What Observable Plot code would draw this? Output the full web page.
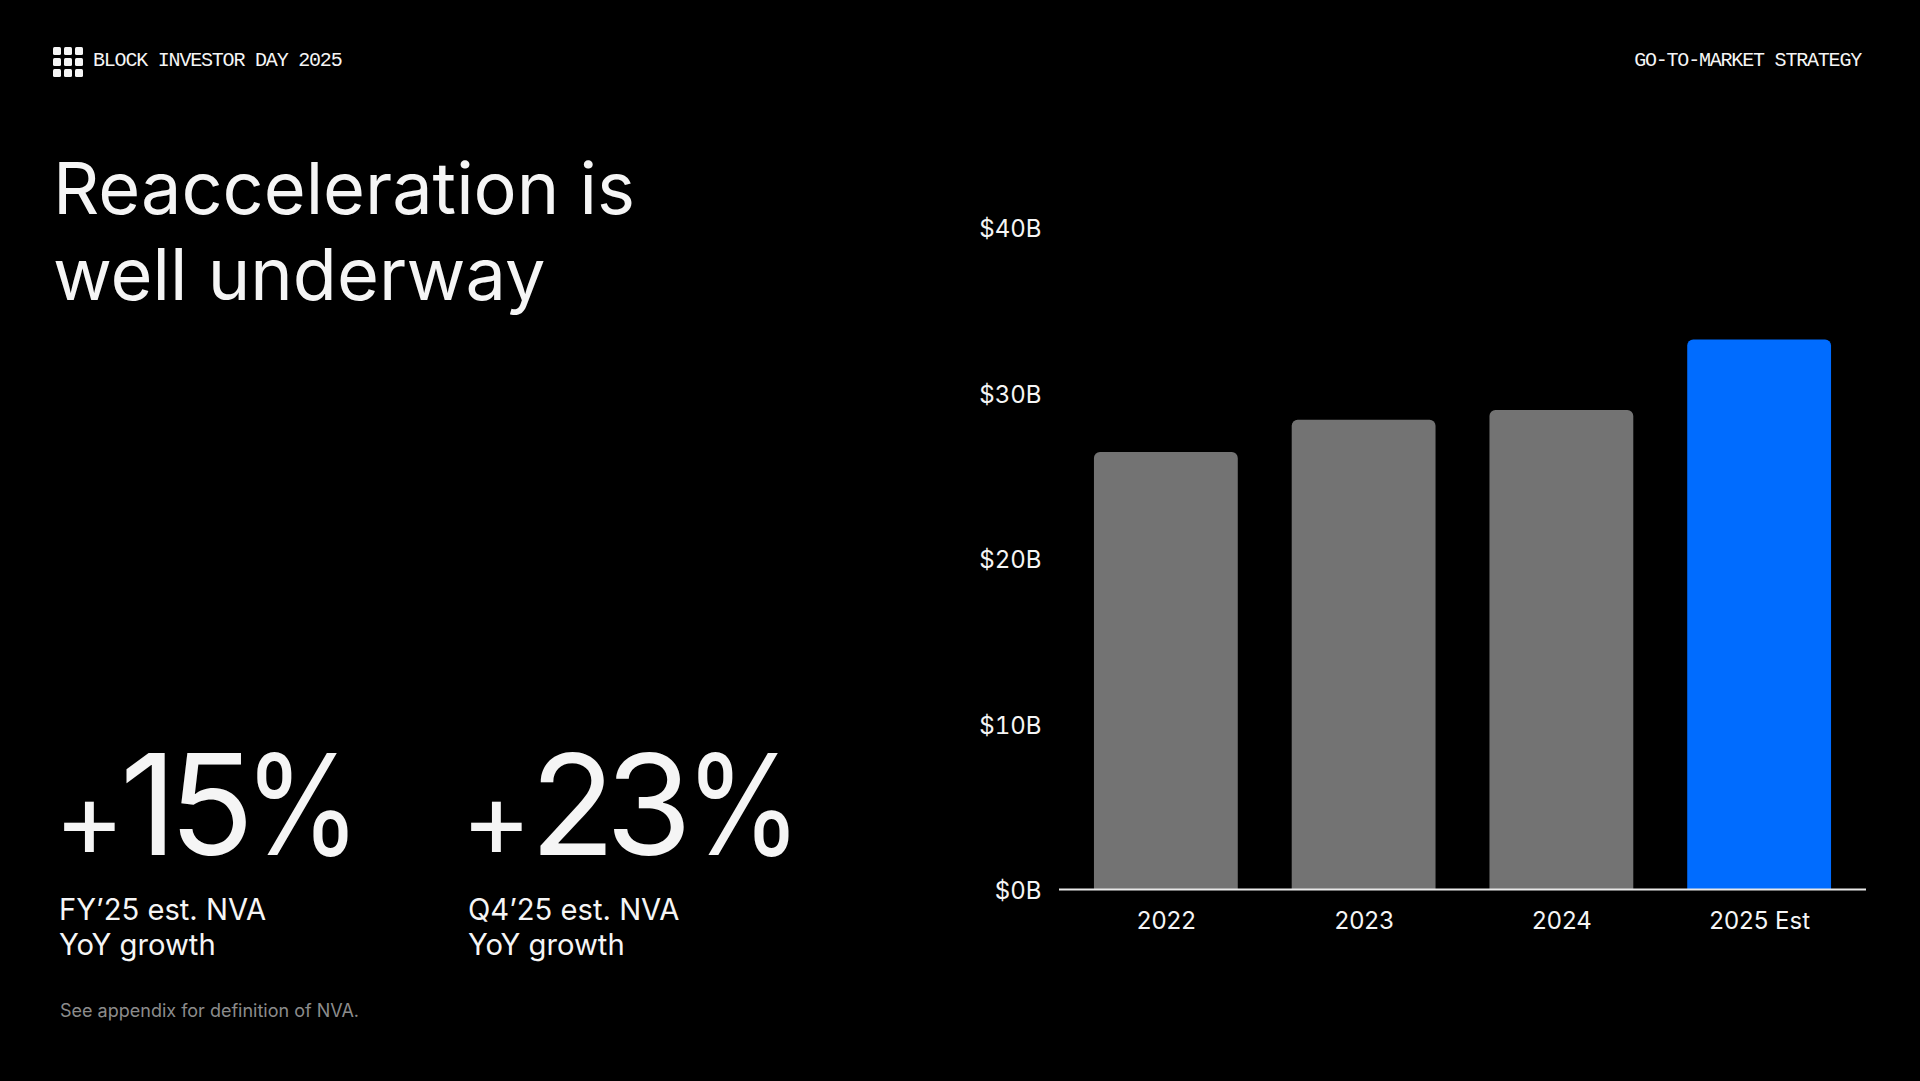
<!DOCTYPE html>
<html>
<head>
<meta charset="utf-8">
<script src="https://cdn.jsdelivr.net/npm/d3@7"></script>
<script src="https://cdn.jsdelivr.net/npm/@observablehq/plot@0.6"></script>
<style>
html,body{margin:0;padding:0;background:#000;width:1920px;height:1081px;overflow:hidden}
body{position:relative;font-family:Inter,sans-serif;color:#f5f5f5}
.t{position:absolute;white-space:nowrap}
.mono{font-family:"Liberation Mono",monospace;font-size:20px;letter-spacing:-1.2px;line-height:20px;top:51px}
.big{top:719px;font-size:140px;line-height:170px;font-weight:400}
.plus{top:754px;font-size:107px;line-height:128px;font-weight:400}
.pct{transform:scaleX(.85);transform-origin:left center}
#chart{position:absolute;left:960px;top:180px}
#chart svg{background:transparent;overflow:visible}
#logo{position:absolute;left:53px;top:47px;display:grid;grid-template-columns:repeat(3,8.2px);grid-auto-rows:8.2px;gap:2.7px}
#logo div{background:#f5f5f5;border-radius:1.5px}
</style>
</head>
<body>
<div id="logo"></div>
<div class="t mono" style="left:93px">BLOCK INVESTOR DAY 2025</div>
<div class="t mono" style="right:59px">GO-TO-MARKET STRATEGY</div>
<div class="t" style="left:53px;top:145px;font-size:72px;line-height:86px;font-weight:400">Reacceleration is<br>well underway</div>
<div class="t plus" style="left:54px">+</div>
<div class="t big" style="left:120px;letter-spacing:-8px">15</div>
<div class="t big pct" style="left:244px">%</div>
<div class="t plus" style="left:461px">+</div>
<div class="t big" style="left:530px;letter-spacing:-10px">23</div>
<div class="t big pct" style="left:685px">%</div>
<div class="t" style="left:59px;top:892px;font-size:29.2px;line-height:35px">FY’25 est. NVA<br>YoY growth</div>
<div class="t" style="left:468px;top:892px;font-size:29.2px;line-height:35px">Q4’25 est. NVA<br>YoY growth</div>
<div class="t" style="left:60px;top:999px;font-size:18px;line-height:24px;color:#8c8c8c">See appendix for definition of NVA.</div>
<div id="chart"></div>
<script>
const years = ["2022", "2023", "2024", "2025 Est"];
const nva = [26.4, 28.35, 28.95, 33.2];
const barColors = ["#737373", "#737373", "#737373", "#006cff"];
const yTicks = [0, 10, 20, 30, 40];

const rows = years.map((year, i) => ({year, value: nva[i], color: barColors[i]}));
const logo = document.getElementById("logo");
for (let i = 0; i < 9; i++) logo.appendChild(document.createElement("div"));

const chart = Plot.plot({
  width: 960,
  height: 800,
  marginLeft: 99,
  marginRight: 54,
  marginTop: 47,
  marginBottom: 91,
  style: {background: "transparent", color: "#f5f5f5", fontFamily: "Inter, sans-serif", fontSize: "24px"},
  x: {domain: years, paddingInner: 54 / 198, paddingOuter: 35 / 198, round: false, label: null},
  y: {domain: [0, 40], label: null},
  marks: [
    Plot.barY(rows, {x: "year", y: "value", fill: d => d.color, ry1: 6}),
    Plot.ruleY([0], {stroke: "#e8e8e8", strokeWidth: 2}),
    Plot.axisY({ticks: yTicks, tickSize: 0, tickPadding: 18, tickFormat: d => `$${d}B`, label: null, fontSize: 24, dy: 2, fill: "#f5f5f5"}),
    Plot.axisX({tickSize: 0, tickPadding: 22, label: null, fontSize: 24, fill: "#f5f5f5"})
  ]
});
document.getElementById("chart").appendChild(chart);
</script>
</body>
</html>
